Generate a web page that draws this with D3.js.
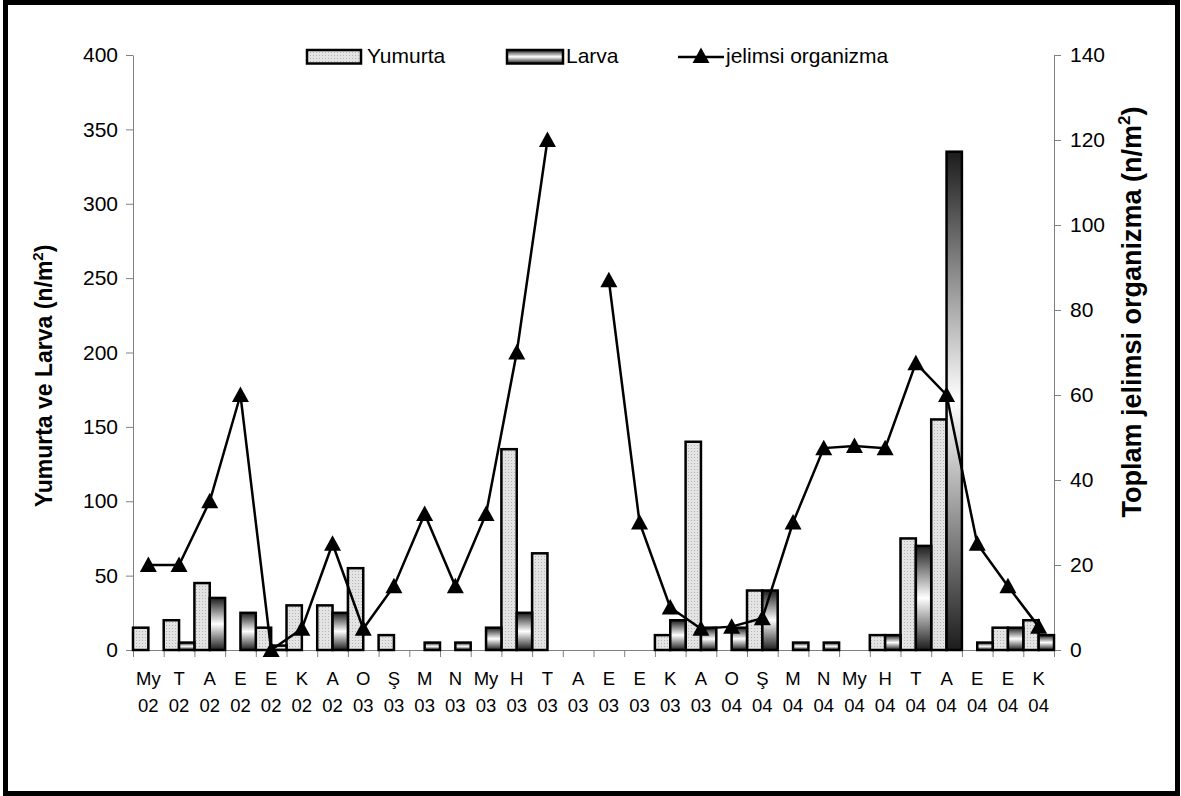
<!DOCTYPE html>
<html>
<head>
<meta charset="utf-8">
<script src="https://cdn.jsdelivr.net/npm/d3@7"></script>
<style>
  body { margin: 0; background: #fff; }
  svg text { font-family: 'Liberation Sans', Arial, sans-serif; fill: #000; }
</style>
</head>
<body>
<div id="chart"></div>
<script>
// data

const months = ['My', 'T', 'A', 'E', 'E', 'K', 'A', 'O', 'Ş', 'M', 'N', 'My', 'H', 'T', 'A',
  'E', 'E', 'K', 'A', 'O', 'Ş', 'M', 'N', 'My', 'H', 'T', 'A', 'E', 'E', 'K'];
const years = ['02', '02', '02', '02', '02', '02', '02', '03', '03', '03', '03', '03', '03', '03', '03',
  '03', '03', '03', '03', '04', '04', '04', '04', '04', '04', '04', '04', '04', '04', '04'];
const yumurta = [15, 20, 45, 0, 15, 30, 30, 55, 10, 0, 0, 0, 135, 65, 0,
  0, 0, 10, 140, 0, 40, 0, 0, 0, 10, 75, 155, 0, 15, 20];
const larva = [0, 5, 35, 25, 3, 0, 25, 0, 0, 5, 5, 15, 25, 0, 0,
  0, 0, 20, 15, 15, 40, 5, 5, 0, 10, 70, 335, 5, 15, 10];
const jelimsi = [20, 20, 35, 60, 0, 5, 25, 5, 15, 32, 15, 32, 70, 120, null,
  87, 30, 10, 5, 5.5, 7.5, 30, 47.5, 48, 47.5, 67.5, 60, 25, 15, 5.5];
const leftTicks = [0, 50, 100, 150, 200, 250, 300, 350, 400];
const rightTicks = [0, 20, 40, 60, 80, 100, 120, 140];

// dimensions of svg

const w = 1181;
const h = 796;
const plotLeft = 133;
const plotRight = 1054;
const plotTop = 55;
const plotBottom = 650;

const svg = d3
  .select('#chart')
  .append('svg')
  .attr('width', w)
  .attr('height', h);

// fills: dotted grey for yumurta, dark-white-dark gradient for larva

const defs = svg.append('defs');
const dots = defs
  .append('pattern')
  .attr('id', 'dots')
  .attr('width', 3)
  .attr('height', 3)
  .attr('patternUnits', 'userSpaceOnUse');
dots.append('rect').attr('width', 3).attr('height', 3).attr('fill', '#e4e4e4');
dots.append('rect').attr('x', 1).attr('y', 1).attr('width', 1).attr('height', 1).attr('fill', '#b4b4b4');

const grad = defs
  .append('linearGradient')
  .attr('id', 'larvaGrad')
  .attr('x1', 0)
  .attr('y1', 0)
  .attr('x2', 0)
  .attr('y2', 1);
grad.append('stop').attr('offset', '0%').attr('stop-color', '#1c1c1c');
grad.append('stop').attr('offset', '50%').attr('stop-color', '#ffffff');
grad.append('stop').attr('offset', '100%').attr('stop-color', '#1c1c1c');

// outer frame

svg
  .append('rect')
  .attr('x', 5.5)
  .attr('y', 2.5)
  .attr('width', 1172)
  .attr('height', 791)
  .attr('fill', 'none')
  .attr('stroke', '#000')
  .attr('stroke-width', 5);

// scales

const idx = d3.range(months.length);

const xScale = d3.scaleBand().domain(idx).range([plotLeft, plotRight]).padding(0);
const xSub = d3
  .scaleBand()
  .domain(['yumurta', 'larva'])
  .range([0, xScale.bandwidth()]);
const xTicks = d3.scaleLinear().domain([0, months.length]).range([plotLeft, plotRight]);

const yLeft = d3.scaleLinear().domain([0, 400]).range([plotBottom, plotTop]);
const yRight = d3.scaleLinear().domain([0, 140]).range([plotBottom, plotTop]);

// axes

const styleAxis = (g, size) => {
  g.select('.domain').attr('stroke', '#808080');
  g.selectAll('.tick line').attr('stroke', '#808080');
  g.selectAll('.tick text').attr('font-size', size).attr('fill', '#000');
};

svg
  .append('g')
  .attr('transform', 'translate(0,' + plotBottom + ')')
  .call(
    d3
      .axisBottom(xTicks)
      .tickValues(d3.range(months.length + 1))
      .tickFormat('')
      .tickSize(7)
      .tickSizeOuter(0)
  )
  .call((g) => styleAxis(g, '18px'));

svg
  .append('g')
  .attr('transform', 'translate(' + plotLeft + ',0)')
  .call(d3.axisLeft(yLeft).tickValues(leftTicks).tickSize(7).tickSizeOuter(0).tickPadding(8))
  .call((g) => styleAxis(g, '21px'));

svg
  .append('g')
  .attr('transform', 'translate(' + plotRight + ',0)')
  .call(d3.axisRight(yRight).tickValues(rightTicks).tickSize(7).tickSizeOuter(0).tickPadding(9))
  .call((g) => styleAxis(g, '21px'));

// category labels, two lines

const cx = (i) => xScale(i) + xScale.bandwidth() / 2;

svg
  .selectAll('.month')
  .data(months)
  .enter()
  .append('text')
  .attr('class', 'month')
  .attr('x', (d, i) => cx(i))
  .attr('y', 685)
  .attr('text-anchor', 'middle')
  .attr('font-size', '18.5px')
  .text((d) => d);

svg
  .selectAll('.year')
  .data(years)
  .enter()
  .append('text')
  .attr('class', 'year')
  .attr('x', (d, i) => cx(i))
  .attr('y', 711.5)
  .attr('text-anchor', 'middle')
  .attr('font-size', '18.5px')
  .text((d) => d);

// axis titles

const leftTitle = svg
  .append('text')
  .attr('transform', 'translate(51.5,376) rotate(-90)')
  .attr('text-anchor', 'middle')
  .attr('font-size', '23px')
  .attr('font-weight', 'bold');
leftTitle.append('tspan').text('Yumurta ve Larva (n/m');
leftTitle.append('tspan').attr('font-size', '15px').attr('dy', '-9').text('2');
leftTitle.append('tspan').attr('dy', '9').text(')');

const rightTitle = svg
  .append('text')
  .attr('transform', 'translate(1141,312) rotate(-90)')
  .attr('text-anchor', 'middle')
  .attr('font-size', '27px')
  .attr('font-weight', 'bold');
rightTitle.append('tspan').text('Toplam jelimsi organizma (n/m');
rightTitle.append('tspan').attr('font-size', '17px').attr('dy', '-11').text('2');
rightTitle.append('tspan').attr('dy', '11').text(')');

// bars

const bars = svg.append('g');

bars
  .selectAll('.yumurta')
  .data(idx.filter((i) => yumurta[i] > 0))
  .enter()
  .append('rect')
  .attr('class', 'yumurta')
  .attr('x', (i) => xScale(i) + xSub('yumurta'))
  .attr('y', (i) => yLeft(yumurta[i]))
  .attr('width', xSub.bandwidth())
  .attr('height', (i) => yLeft(0) - yLeft(yumurta[i]))
  .attr('fill', 'url(#dots)')
  .attr('stroke', '#000')
  .attr('stroke-width', 2.5);

bars
  .selectAll('.larva')
  .data(idx.filter((i) => larva[i] > 0))
  .enter()
  .append('rect')
  .attr('class', 'larva')
  .attr('x', (i) => xScale(i) + xSub('larva'))
  .attr('y', (i) => yLeft(larva[i]))
  .attr('width', xSub.bandwidth())
  .attr('height', (i) => yLeft(0) - yLeft(larva[i]))
  .attr('fill', 'url(#larvaGrad)')
  .attr('stroke', '#000')
  .attr('stroke-width', 2.5);

// jelimsi organizma line with triangle markers

const tri = 'M0,-8.5L8.5,7L-8.5,7Z';

const line = d3
  .line()
  .defined((d) => d != null)
  .x((d, i) => cx(i))
  .y((d) => yRight(d));

svg
  .append('path')
  .datum(jelimsi)
  .attr('d', line)
  .attr('fill', 'none')
  .attr('stroke', '#000')
  .attr('stroke-width', 2.5);

svg
  .selectAll('.marker')
  .data(idx.filter((i) => jelimsi[i] != null))
  .enter()
  .append('path')
  .attr('class', 'marker')
  .attr('d', tri)
  .attr('transform', (i) => 'translate(' + cx(i) + ',' + yRight(jelimsi[i]) + ')')
  .attr('fill', '#000');

// legend

const legend = svg.append('g').attr('font-size', '21px');

legend
  .append('rect')
  .attr('x', 307)
  .attr('y', 50)
  .attr('width', 54)
  .attr('height', 13.5)
  .attr('fill', 'url(#dots)')
  .attr('stroke', '#000')
  .attr('stroke-width', 2.5);
legend.append('text').attr('x', 367).attr('y', 63).text('Yumurta');

legend
  .append('rect')
  .attr('x', 507)
  .attr('y', 50)
  .attr('width', 56)
  .attr('height', 13.5)
  .attr('fill', 'url(#larvaGrad)')
  .attr('stroke', '#000')
  .attr('stroke-width', 2.5);
legend.append('text').attr('x', 566).attr('y', 63).text('Larva');

legend
  .append('line')
  .attr('x1', 678)
  .attr('x2', 724)
  .attr('y1', 57)
  .attr('y2', 57)
  .attr('stroke', '#000')
  .attr('stroke-width', 2.5);
legend.append('path').attr('d', tri).attr('transform', 'translate(701,56)').attr('fill', '#000');
legend.append('text').attr('x', 726).attr('y', 63).text('jelimsi organizma');
</script>
</body>
</html>
